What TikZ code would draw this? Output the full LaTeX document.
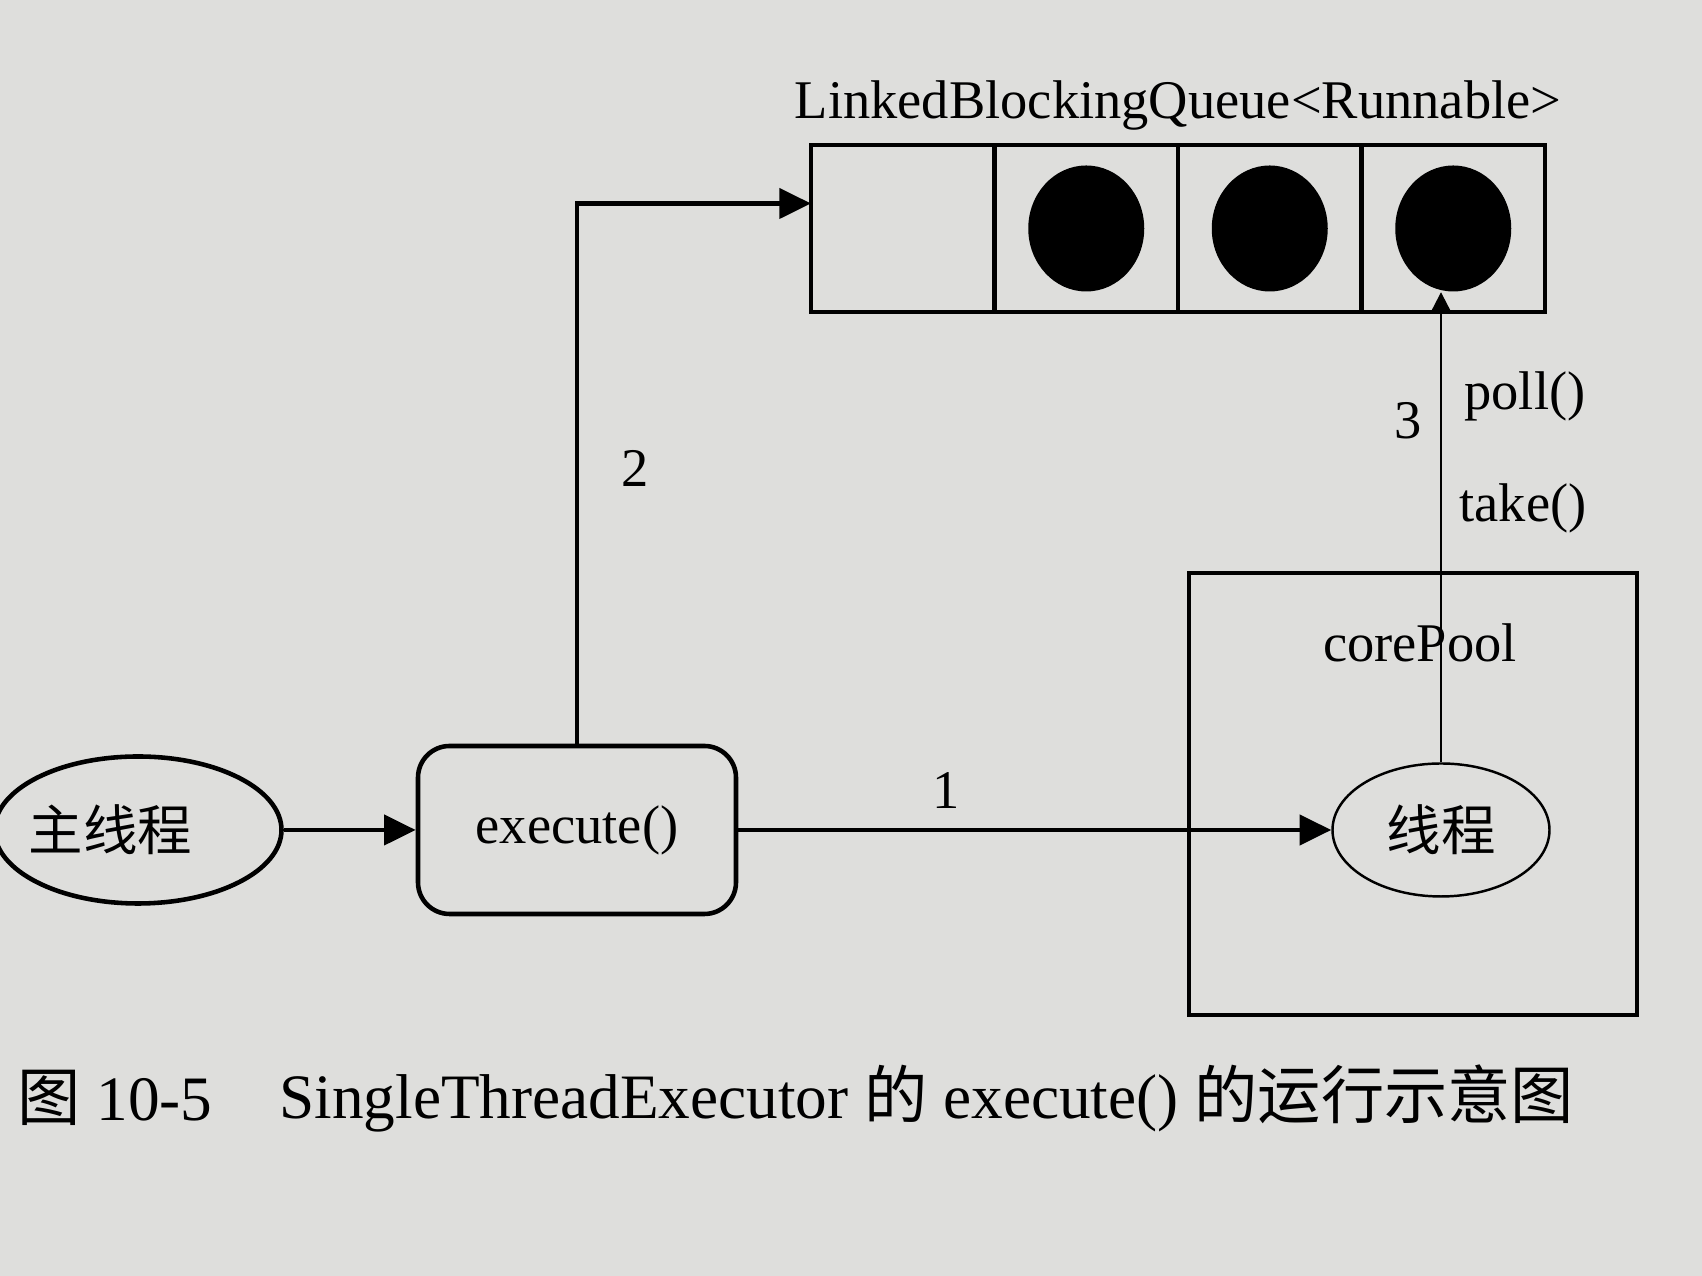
\documentclass[tikz,border=0pt]{standalone}
\usepackage{fontspec}
\setmainfont{Liberation Serif}
\newfontfamily\cjk{Noto Sans CJK SC}
\usetikzlibrary{arrows.meta,positioning,shapes.geometric}
\definecolor{pagegrey}{HTML}{DEDEDC}
\tikzset{
  box/.style={draw=black,line width=1.3pt},
  cell/.style={box,minimum width=1.835cm,minimum height=1.67cm,inner sep=0pt,outer sep=0pt},
  ball/.style={ellipse,fill=black,minimum width=1.16cm,minimum height=1.26cm,inner sep=0pt},
  link/.style={->,line width=1.3pt},
  thin link/.style={-{Triangle[length=6pt,width=6pt]},line width=0.7pt},
  lbl/.style={font=\fontsize{15.5}{18}\selectfont},
}
\begin{document}
\begin{tikzpicture}[>={Triangle[length=9pt,width=8.5pt]},lbl]
\useasboundingbox (0,0) rectangle (17.02,12.76);
\fill[pagegrey] (0,0) rectangle (17.02,12.76);
% \draw[help lines] (0,0) grid (17,12);
\node (mt) [ellipse,box,minimum width=2.87cm,minimum height=1.47cm,inner sep=0pt] at (1.38,4.46) {\makebox[0pt]{{\cjk 主线程}\kern0.55cm}};
\node (ex) [box,rounded corners=9pt,minimum width=3.18cm,minimum height=1.68cm] at (5.77,4.46) {execute()};
\node (th) [ellipse,draw=black,line width=0.7pt,minimum width=2.17cm,minimum height=1.33cm,inner sep=0pt] at (14.41,4.46) {\cjk 线程};
\draw[box] (11.89,2.61) rectangle (16.37,7.03);
\node (pool) at (14.20,6.33) {corePool};
%
\node (q1) [cell] at (9.0275,10.475) {};
\node (q2) [cell,right=0pt of q1] {};
\node (q3) [cell,right=0pt of q2] {};
\node (q4) [cell,right=0pt of q3] {};
\foreach \i in {2,3,4}
  \node (c\i) [ball] at (q\i) {};
\node (lbq) [above=0.02cm of q2.north east] {LinkedBlockingQueue<Runnable>};
%
\path[link] (mt) edge (ex);
\path[link] (ex) edge node[pos=0.35,above,yshift=2pt] {1} (th);
\draw[link] (ex.north) |- node[pos=0.255,right=0.3cm] {2} ([yshift=2.5mm]q1.west);
\draw[thin link] (th.north) -- (th.north |- c4.south);
%
\node (n3) at (14.08,8.55) {3};
\node (poll) at (15.25,8.80) {poll()};
\node (take) at (15.23,7.68) {take()};
%
\node (fig) [anchor=west,font=\fontsize{18}{22}\selectfont] at (0.05,1.78) {{\cjk 图} 10-5};
\node (cap) [anchor=west,font=\fontsize{18}{22}\selectfont] at (2.67,1.78) {SingleThreadExecutor {\cjk 的} execute() {\cjk 的运行示意图}};
\end{tikzpicture}
\end{document}
